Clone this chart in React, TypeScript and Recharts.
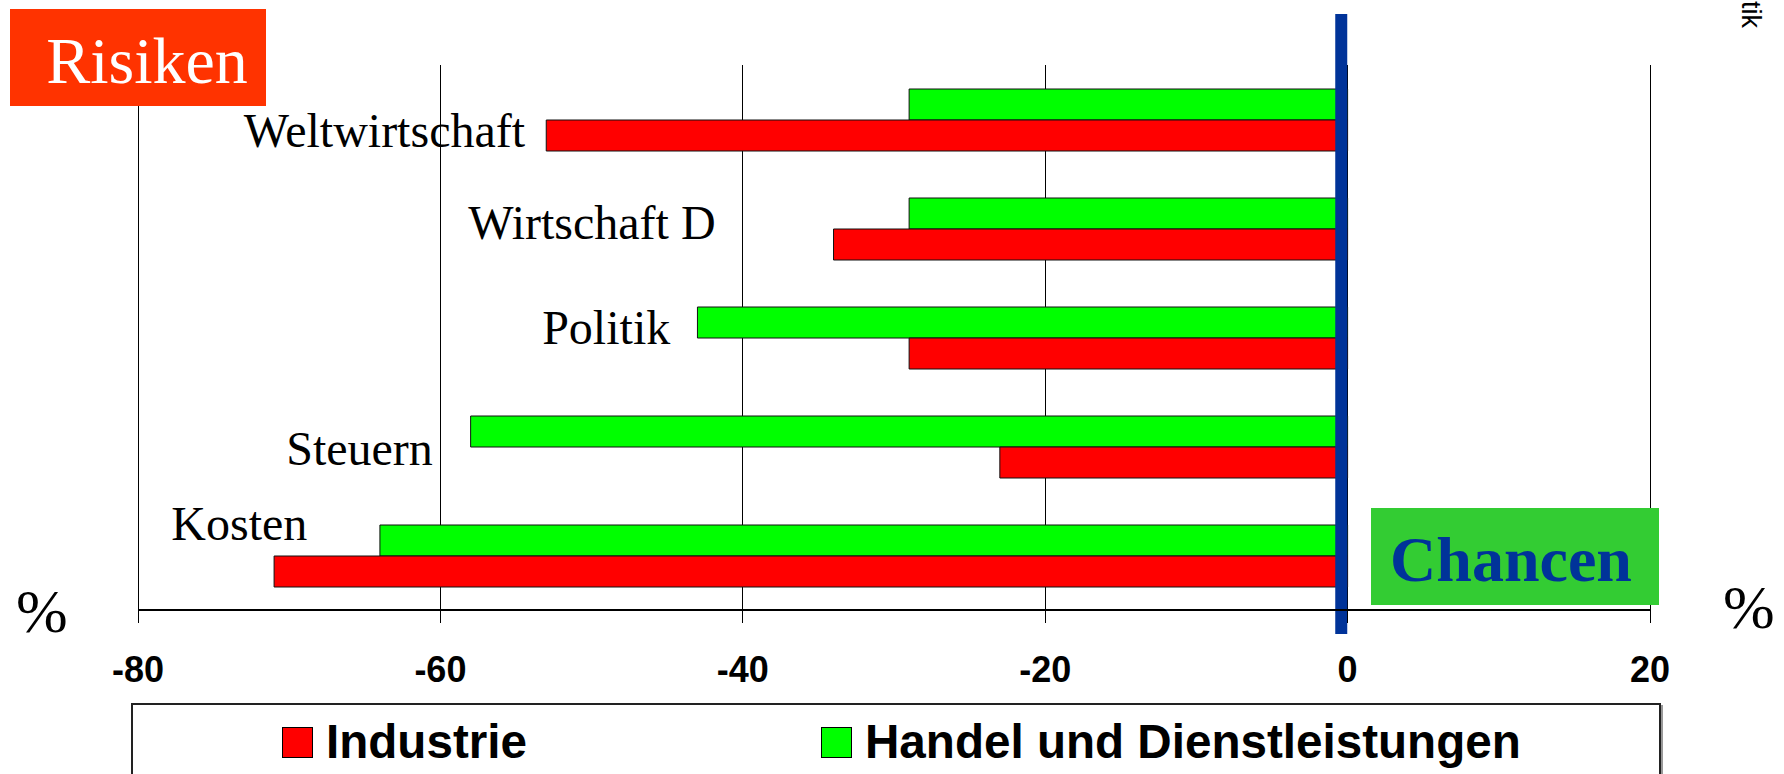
import React from 'react';
import {
  BarChart,
  Bar,
  XAxis,
  YAxis,
  CartesianGrid,
  ReferenceLine,
  ReferenceDot,
  Legend,
  Customized,
} from 'recharts';

// Risk shares in % (negative = Risiken)
const categories = ['Weltwirtschaft', 'Wirtschaft D', 'Politik', 'Steuern', 'Kosten'];
const industrie = [-53, -34, -29, -23, -71];
const handel = [-29, -29, -43, -58, -64];
const xTicks = [-80, -60, -40, -20, 0, 20];

// where each category label ends (axis units) and its baseline shift from the band centre
const labelEnd = [-54.4, -41.8, -44.8, -60.5, -68.8];
const labelShift = [27, 10, 6, 18.5, -15.5];

const zeroMarker = -0.42;

const legendOrder = ['Industrie', 'Handel und Dienstleistungen'];
const seriesColors: Record<string, string> = {
  Industrie: '#FF0000',
  'Handel und Dienstleistungen': '#00FF00',
};

const data = categories.map((name, i) => ({
  name,
  industrie: industrie[i],
  handel: handel[i],
}));

const SANS = '"Liberation Sans", Arial, sans-serif';
const SERIF = '"Liberation Serif", "Times New Roman", serif';

function renderLegend(props: any) {
  const items = [...(props.payload || [])].sort(
    (a: any, b: any) => legendOrder.indexOf(a.value) - legendOrder.indexOf(b.value)
  );
  const lefts = [149, 688];
  return (
    <div
      style={{
        boxSizing: 'border-box',
        width: 1530,
        height: 100,
        border: '2px solid #222',
        boxShadow: '2px 2px 0 #999',
        background: '#fff',
        position: 'relative',
      }}
    >
      {items.map((e: any, i: number) => (
        <div
          key={e.value}
          style={{ position: 'absolute', left: lefts[i], top: 19, display: 'flex', alignItems: 'center' }}
        >
          <span
            style={{
              width: 31,
              height: 31,
              background: seriesColors[e.value],
              border: '1px solid #000',
              boxSizing: 'border-box',
              marginRight: 13,
              display: 'inline-block',
            }}
          />
          <span
            style={{
              fontFamily: SANS,
              fontWeight: 700,
              fontSize: 47.6,
              lineHeight: '36px',
              color: '#000',
              whiteSpace: 'nowrap',
            }}
          >
            {e.value}
          </span>
        </div>
      ))}
    </div>
  );
}

function Decorations() {
  return (
    <g>
      <rect x={10} y={9} width={256} height={97} fill="#FF3300" />
      <text x={147} y={83} textAnchor="middle" fill="#fff" fontFamily={SERIF} fontSize={66}>
        Risiken
      </text>
      <rect x={1371} y={508} width={288} height={97} fill="#33CC33" />
      <text x={1511} y={581} textAnchor="middle" fill="#003399" fontFamily={SERIF} fontWeight={700} fontSize={64}>
        Chancen
      </text>
      <text x={16} y={632} fill="#000" fontFamily={SERIF} fontSize={62}>
        %
      </text>
      <text x={1723} y={628} fill="#000" fontFamily={SERIF} fontSize={62}>
        %
      </text>
      <text
        x={1742}
        y={28}
        textAnchor="end"
        fill="#000"
        fontFamily={SANS}
        fontSize={27}
        transform="rotate(90, 1742, 28)"
      >
        tik
      </text>
    </g>
  );
}

export default function App() {
  return (
    <div
      style={{
        position: 'fixed',
        left: 0,
        top: 0,
        width: 1784,
        height: 774,
        overflow: 'hidden',
        background: '#fff',
      }}
    >
      <BarChart
        width={1784}
        height={774}
        data={data}
        layout="vertical"
        margin={{ top: 65, right: 134, bottom: 104, left: 138 }}
        barGap={0}
        barSize={31}
      >
        <CartesianGrid
          horizontal={false}
          vertical
          stroke="#000"
          strokeWidth={1}
          shapeRendering="crispEdges"
        />
        <XAxis
          type="number"
          domain={[-80, 20]}
          ticks={xTicks}
          interval={0}
          height={60}
          axisLine={{ stroke: '#000', strokeWidth: 2 }}
          tickLine={{ stroke: '#000', strokeWidth: 1, shapeRendering: 'crispEdges' }}
          tickSize={13}
          tickMargin={33}
          tick={{ fill: '#000', fontSize: 36, fontWeight: 700, fontFamily: SANS }}
        />
        <YAxis type="category" dataKey="name" hide />
        <Customized component={Decorations} />
        <Bar
          dataKey="handel"
          name="Handel und Dienstleistungen"
          fill="#00FF00"
          stroke="#111"
          strokeWidth={1}
          isAnimationActive={false}
        />
        <Bar
          dataKey="industrie"
          name="Industrie"
          fill="#FF0000"
          stroke="#111"
          strokeWidth={1}
          isAnimationActive={false}
        />
        {categories.map((c, i) => (
          <ReferenceDot
            key={c}
            x={labelEnd[i]}
            y={c}
            r={1}
            ifOverflow="visible"
            shape={(p: any) => (
              <text
                x={p.cx}
                y={p.cy + labelShift[i]}
                textAnchor="end"
                fill="#000"
                fontFamily={SERIF}
                fontSize={48}
              >
                {c}
              </text>
            )}
          />
        ))}
        <ReferenceLine
          x={zeroMarker}
          ifOverflow="visible"
          shape={(p: any) => (
            <line
              x1={p.x1}
              x2={p.x2}
              y1={Math.min(p.y1, p.y2) - 51}
              y2={Math.max(p.y1, p.y2) + 24}
              stroke="#003399"
              strokeWidth={12}
            />
          )}
        />
        <Legend
          layout="horizontal"
          verticalAlign="middle"
          align="center"
          wrapperStyle={{ left: 131, top: 703, width: 1530 }}
          content={renderLegend}
        />
      </BarChart>
    </div>
  );
}
